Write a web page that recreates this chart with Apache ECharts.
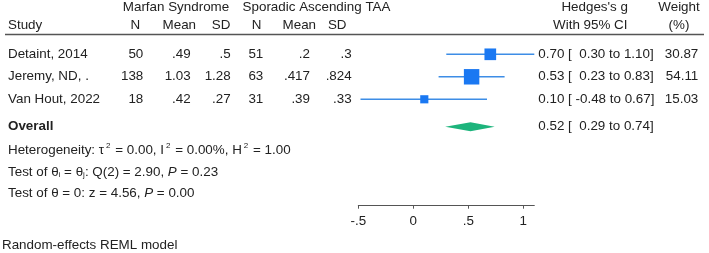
<!DOCTYPE html>
<html lang="en">
<head>
<meta charset="UTF-8">
<title>Forest plot - Hedges's g</title>
<script src="https://cdn.jsdelivr.net/npm/echarts@6/dist/echarts.min.js"></script>
<style>
    html, body, #main {
        width: 709px;
        height: 253px;
        margin: 0;
        padding: 0;
        background: #fff;
    }
</style>
</head>
<body>
<div id="main"></div>
<script>
    // study table
    var studies = ["Detaint, 2014", "Jeremy, ND, .", "Van Hout, 2022"];
    var marfanN = ["50", "138", "18"];
    var marfanMean = [".49", "1.03", ".42"];
    var marfanSD = [".5", "1.28", ".27"];
    var sporN = ["51", "63", "31"];
    var sporMean = [".2", ".417", ".39"];
    var sporSD = [".3", ".824", ".33"];

    // effect sizes
    var effect = [0.70, 0.53, 0.10];
    var ciLow = [0.30, 0.23, -0.48];
    var ciHigh = [1.10, 0.83, 0.67];
    var weight = [30.87, 54.11, 15.03];
    var overall = [0.52, 0.29, 0.74]; // estimate, low, high

    var axisTicks = [-0.5, 0, 0.5, 1];
    var axisTickLabels = ["-.5", "0", ".5", "1"];

    var FONT = '"Liberation Sans", Arial, sans-serif';
    var FS = 13.4;
    var TXT = "#222";
    var OVERALL_ROW = 3.22;

    var myChart = echarts.init(document.getElementById("main"));

    function ciText(est, lo, hi) {
        return est.toFixed(2) + " [ " + (lo < 0 ? "" : " ") + lo.toFixed(2) + " to " + hi.toFixed(2) + "]";
    }

    myChart.setOption({
        animation: false,
        grid: {left: 358.3, right: 174.7, top: 31.8, height: 173.9},
        xAxis: {
            type: "value",
            min: -0.5,
            max: 1.1,
            interval: 0.5,
            splitLine: {show: false},
            axisLine: {onZero: false, lineStyle: {color: "#555", width: 1}},
            axisTick: {length: 3, lineStyle: {color: "#555"}, customValues: axisTicks},
            axisLabel: {
                customValues: axisTicks,
                margin: 9,
                color: TXT,
                fontFamily: FONT,
                fontSize: FS,
                formatter: function (v) {
                    var i = axisTicks.indexOf(v);
                    return i >= 0 ? axisTickLabels[i] : "";
                }
            }
        },
        yAxis: {type: "value", inverse: true, min: -1, max: 6.73, show: false},
        series: [{
            type: "custom",
            renderItem: function (params, api) {
                var a = api.coord([api.value(0), api.value(2)]);
                var b = api.coord([api.value(1), api.value(2)]);
                return {
                    type: "line",
                    shape: {x1: a[0], y1: a[1], x2: b[0], y2: b[1]},
                    style: {stroke: "#3d8de6", lineWidth: 1.4}
                };
            },
            data: studies.map(function (s, i) { return [ciLow[i], ciHigh[i], i]; })
        }, {
            type: "scatter",
            symbol: "rect",
            symbolSize: function (v) { return 2.1 * Math.sqrt(v[2]); },
            itemStyle: {color: "#1a78f2", opacity: 1},
            data: studies.map(function (s, i) { return [effect[i], i, weight[i]]; })
        }, {
            type: "custom",
            renderItem: function (params, api) {
                var row = api.value(3);
                var l = api.coord([api.value(1), row]);
                var m = api.coord([api.value(0), row]);
                var r = api.coord([api.value(2), row]);
                var h = 4.6;
                return {
                    type: "polygon",
                    shape: {points: [[l[0], l[1]], [m[0], m[1] - h], [r[0], r[1]], [m[0], m[1] + h]]},
                    style: {fill: "#1db47c"}
                };
            },
            data: [[overall[0], overall[1], overall[2], OVERALL_ROW]]
        }]
    });

    function txt(s, x, y, align, extra) {
        var st = {text: s, x: x, y: y, textAlign: align || "left", textVerticalAlign: "middle",
            fontFamily: FONT, fontSize: FS, fill: TXT};
        if (extra) for (var k in extra) st[k] = extra[k];
        return {type: "text", silent: true, style: st};
    }

    var g = [];
    // headers
    g.push(txt("Marfan Syndrome", 176, 7.5, "center"));
    g.push(txt("Sporadic Ascending TAA", 316.5, 7.5, "center"));
    g.push(txt("Hedges's g", 594.7, 7.5, "center"));
    g.push(txt("Weight", 679, 7.5, "center"));
    g.push(txt("Study", 8, 25));
    g.push(txt("N", 135.3, 25, "center"));
    g.push(txt("Mean", 179.3, 25, "center"));
    g.push(txt("SD", 221, 25, "center"));
    g.push(txt("N", 256.7, 25, "center"));
    g.push(txt("Mean", 299.3, 25, "center"));
    g.push(txt("SD", 337.2, 25, "center"));
    g.push(txt("With 95% CI", 590.3, 25, "center"));
    g.push(txt("(%)", 679, 25, "center"));
    g.push({type: "line", silent: true, shape: {x1: 5, y1: 34.5, x2: 704, y2: 34.5},
        style: {stroke: "#555", lineWidth: 1.3}});

    var cols = [[marfanN, 143.3], [marfanMean, 190.7], [marfanSD, 230.7],
        [sporN, 263.3], [sporMean, 310], [sporSD, 351.7]];
    studies.forEach(function (s, i) {
        var y = myChart.convertToPixel({yAxisIndex: 0}, i);
        g.push(txt(s, 8, y));
        cols.forEach(function (c) { g.push(txt(c[0][i], c[1], y, "right")); });
        g.push(txt(ciText(effect[i], ciLow[i], ciHigh[i]), 538.3, y));
        g.push(txt(weight[i].toFixed(2), 698.3, y, "right"));
    });

    var yo = myChart.convertToPixel({yAxisIndex: 0}, OVERALL_ROW);
    g.push(txt("Overall", 8, yo, "left", {fontWeight: "bold"}));
    g.push(txt(ciText(overall[0], overall[1], overall[2]), 538.3, yo));

    var rich = {
        n: {fontFamily: FONT, fontSize: FS, fill: TXT},
        sup: {fontFamily: FONT, fontSize: 8, fill: TXT, padding: [0, 1, 8, 2]},
        sub: {fontFamily: FONT, fontSize: 8, fill: TXT, padding: [6, 0, 0, 0]},
        it: {fontFamily: FONT, fontSize: FS, fill: TXT, fontStyle: "italic"}
    };
    g.push(txt("{n|Heterogeneity: τ}{sup|2}{n| = 0.00, I}{sup|2}{n| = 0.00%, H}{sup|2}{n| = 1.00}", 8, 150, "left", {rich: rich}));
    g.push(txt("{n|Test of θ}{sub|i}{n| = θ}{sub|j}{n|: Q(2) = 2.90, }{it|P}{n| = 0.23}", 8, 172, "left", {rich: rich}));
    g.push(txt("{n|Test of θ = 0: z = 4.56, }{it|P}{n| = 0.00}", 8, 193, "left", {rich: rich}));
    g.push(txt("Random-effects REML model", 2, 245));

    myChart.setOption({graphic: g});
</script>
</body>
</html>
